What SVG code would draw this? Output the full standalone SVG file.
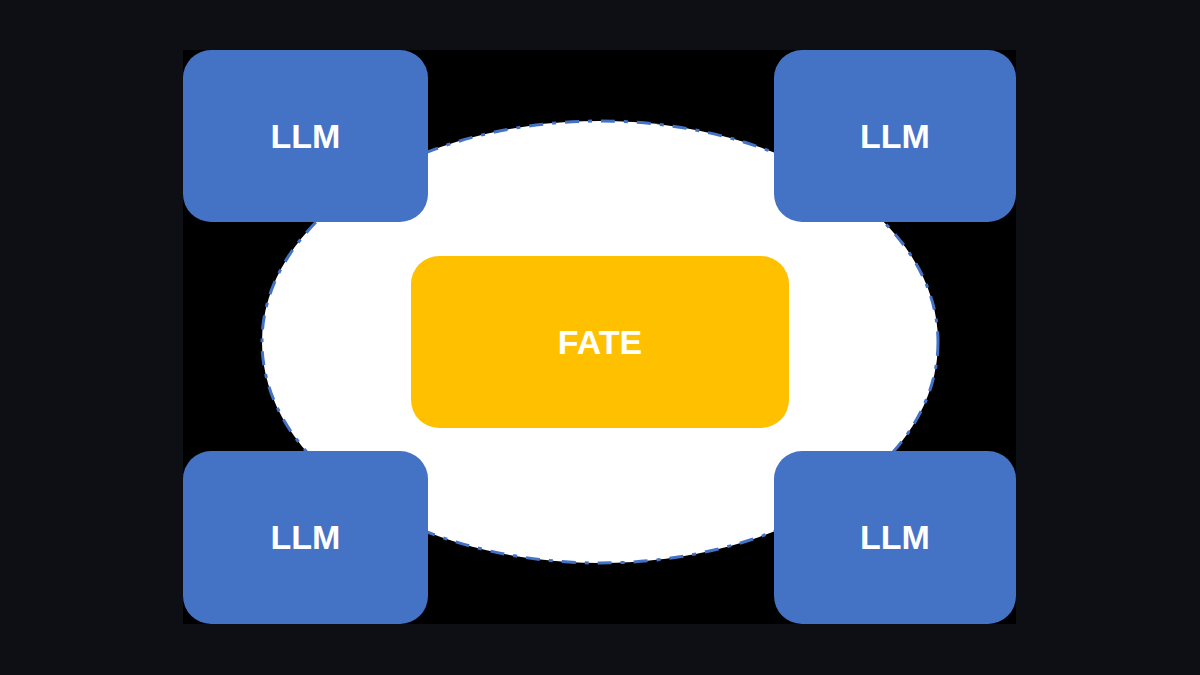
<svg xmlns="http://www.w3.org/2000/svg" width="1200" height="675" viewBox="0 0 1200 675">
<style>
.llm{fill:#4472c4}
.t{font-family:"Liberation Sans",Arial,sans-serif;font-weight:bold;font-size:34px;fill:#fff;text-anchor:middle;dominant-baseline:central}
</style>
<rect width="1200" height="675" fill="#0d0f14"/>
<rect x="183" y="50" width="833" height="574" fill="#000"/>
<g id="connectors">
<ellipse cx="600" cy="342" rx="338" ry="221" fill="#fff" stroke="#4472c4" stroke-width="3" stroke-dasharray="14 9 4 9"/>
</g>
<g id="fate"><rect x="411" y="256" width="378" height="172" rx="28" fill="#ffc000"/><text class="t" x="600" y="342">FATE</text></g>
<g id="llm1"><rect class="llm" x="183" y="50" width="245" height="172" rx="28"/><text class="t" x="305.5" y="136">LLM</text></g>
<g id="llm2"><rect class="llm" x="774" y="50" width="242" height="172" rx="28"/><text class="t" x="895" y="136">LLM</text></g>
<g id="llm3"><rect class="llm" x="183" y="451" width="245" height="173" rx="28"/><text class="t" x="305.5" y="537">LLM</text></g>
<g id="llm4"><rect class="llm" x="774" y="451" width="242" height="173" rx="28"/><text class="t" x="895" y="537">LLM</text></g>
</svg>
